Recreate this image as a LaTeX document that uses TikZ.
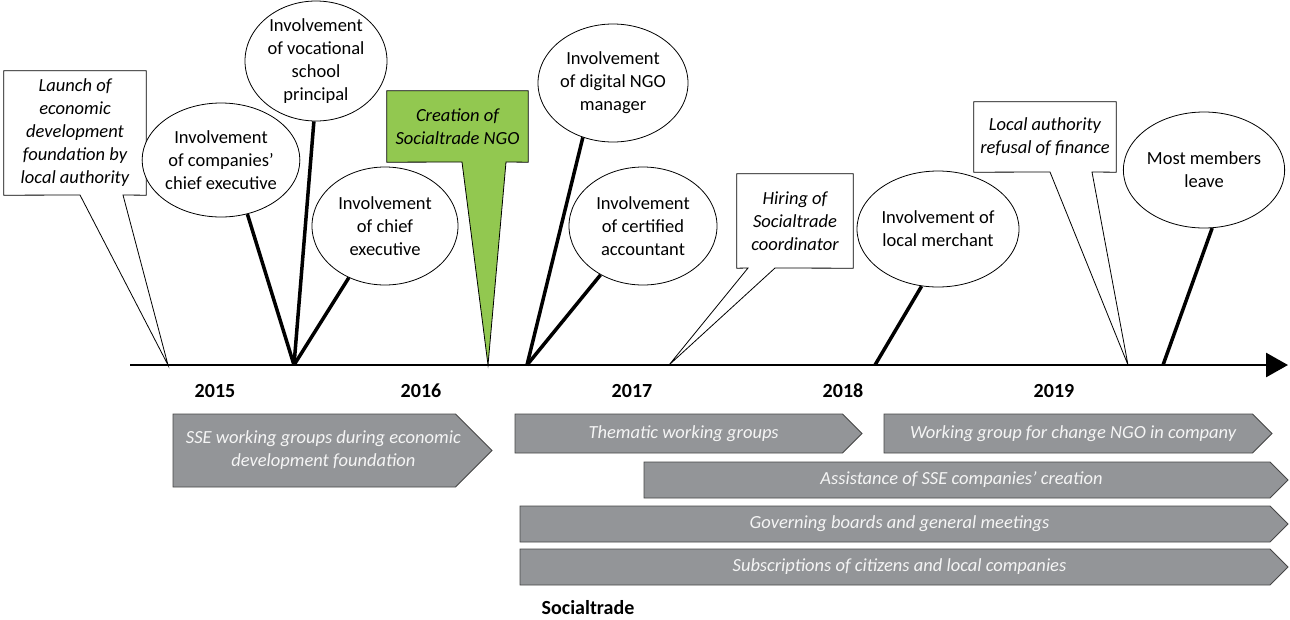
\documentclass[tikz,border=0pt]{standalone}
\usepackage{fontspec}
\setmainfont{Carlito}
\usetikzlibrary{shapes.geometric,arrows.meta,backgrounds,calc}
\definecolor{ngogreen}{RGB}{146,200,80}
\definecolor{bargrey}{RGB}{147,149,152}
\definecolor{barline}{RGB}{70,70,70}
\definecolor{bartextc}{RGB}{245,245,245}
\newcommand\bararrow[6]{% name, left, top, tip, bottom, text
  \pgfmathsetmacro\barD{(#5-#3)/2}
  \draw[bar] (#2,#3) -- ({#4-\barD},#3) -- (#4,{(#3+#5)/2}) -- ({#4-\barD},#5) -- (#2,#5) -- cycle;
  \node[bartext] (#1) at ({(#2+#4-\barD)/2+\barD/4},{(#3+#5)/2}) {#6};}
\begin{document}
\begin{tikzpicture}[x=1pt,y=-1pt,
  every node/.style={font=\fontsize{18.5}{23}\selectfont, align=center},
  ell/.style={ellipse, draw, fill=white, line width=0.8pt, inner sep=0pt},
  callbox/.style={inner sep=0pt, font=\fontsize{18.5}{23}\selectfont\itshape},
  outline/.style={draw, line width=0.8pt, fill=white, line join=miter},
  stem/.style={line width=3.5pt},
  axisline/.style={line width=2.8pt, -{Triangle[length=22pt,width=24pt]}},
  bar/.style={draw=barline, line width=0.8pt, fill=bargrey},
  bartext/.style={text=bartextc, font=\fontsize{18.5}{23}\selectfont\itshape},
  year/.style={font=\fontsize{20}{24}\selectfont\bfseries}]
\useasboundingbox (0,0) rectangle (1290,619);

% axis
\coordinate (axstart) at (130,365);
\coordinate (axtip) at (1288,365);
\draw[axisline] (axstart) -- (axtip);

% points on the axis
\coordinate (p1) at (168,365);
\coordinate (p2) at (294,365);
\coordinate (p3) at (488,365);
\coordinate (p4) at (527,365);
\coordinate (p5) at (669,365);
\coordinate (p6) at (875,365);
\coordinate (p7) at (1128,365);
\coordinate (p8) at (1163,365);

% callout boxes (text)
\node[callbox, minimum width=142pt, minimum height=124pt] (b1) at (75,133)
  {Launch of\\economic\\development\\foundation by\\local authority};
\node[callbox, minimum width=141pt, minimum height=71pt] (bg) at (457.5,126.5)
  {Creation of\\Socialtrade NGO};
\node[callbox, minimum width=116pt, minimum height=94pt] (bh) at (795,221)
  {Hiring of\\Socialtrade\\coordinator};
\node[callbox, minimum width=142pt, minimum height=70pt] (bl) at (1045,137)
  {Local authority\\refusal of finance};

\coordinate (b1l) at (80,195);  \coordinate (b1r) at (123,195);
\coordinate (bgl) at (462,162); \coordinate (bgr) at (506,162);
\coordinate (bhl) at (748,268); \coordinate (bhr) at (775,268);
\coordinate (bll) at (1050,172); \coordinate (blr) at (1092,172);

\begin{scope}[on background layer]
\draw[outline] (b1.north west) -- (b1.north east) -- (b1.south east) -- (b1r) -- (p1) -- (b1l) -- (b1.south west) -- cycle;
\draw[outline, fill=ngogreen] (bg.north west) -- (bg.north east) -- (bg.south east) -- (bgr) -- (p3) -- (bgl) -- (bg.south west) -- cycle;
\draw[outline] (bh.north west) -- (bh.north east) -- (bh.south east) -- (bhr) -- (p5) -- (bhl) -- (bh.south west) -- cycle;
\draw[outline] (bl.north west) -- (bl.north east) -- (bl.south east) -- (blr) -- (p7) -- (bll) -- (bl.south west) -- cycle;
\end{scope}

% ellipses
\node[ell, minimum width=142pt, minimum height=114pt] (ecomp) at (221,160)
  {Involvement\\of companies’\\chief executive};
\node[ell, minimum width=142pt, minimum height=120pt] (evoc) at (316,61)
  {Involvement\\of vocational\\school\\principal};
\node[ell, minimum width=146pt, minimum height=118pt] (echief) at (385,226)
  {Involvement\\of chief\\executive};
\node[ell, minimum width=150pt, minimum height=118pt] (edig) at (613,83)
  {Involvement\\of digital NGO\\manager};
\node[ell, minimum width=148pt, minimum height=118pt] (eacc) at (643,226)
  {Involvement\\of certified\\accountant};
\node[ell, minimum width=162pt, minimum height=116pt] (emer) at (938,229)
  {Involvement of\\local merchant};
\node[ell, minimum width=152pt, minimum height=116pt] (emost) at (1204,170)
  {Most members\\leave};

% stems
\draw[stem] (ecomp.296) -- (p2);
\draw[stem] (evoc.268) -- (p2);
\draw[stem] (echief.235) -- (p2);
\draw[stem] (edig.241) -- (p4);
\draw[stem] (eacc.229) -- (p4);
\draw[stem] (emer.254) -- (p6);
\draw[stem] (emost.278) -- (p8);

% years
\node[year] (y15) at (215,391) {2015};
\node[year] (y16) at (421,391) {2016};
\node[year] (y17) at (632,391) {2017};
\node[year] (y18) at (843,391) {2018};
\node[year] (y19) at (1054,391) {2019};

% bars
\bararrow{a1}{173}{414}{492}{487}{SSE working groups during economic\\development foundation}
\bararrow{a2}{515}{414}{862}{453}{Thematic working groups}
\bararrow{a3}{884}{414}{1272}{453}{Working group for change NGO in company}
\bararrow{a4}{644}{462}{1288}{498}{Assistance of SSE companies’ creation}
\bararrow{a5}{520}{506}{1288}{542}{Governing boards and general meetings}
\bararrow{a6}{520}{549}{1288}{585}{Subscriptions of citizens and local companies}

\node[year] (soc) at (588,608) {Socialtrade};
\end{tikzpicture}
\end{document}
